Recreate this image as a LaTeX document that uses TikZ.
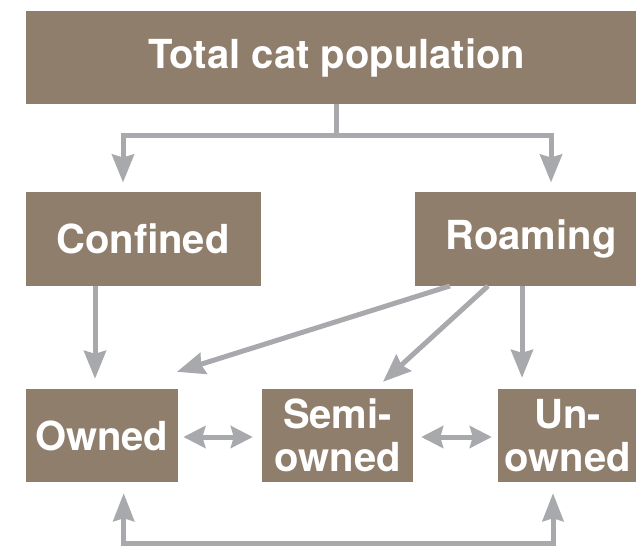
\documentclass[tikz,border=0pt]{standalone}
\usepackage{fontspec}
\usepackage{tikz}
\usepackage{xcolor}
\usetikzlibrary{arrows.meta}
\setmainfont{TeX Gyre Heros}
\definecolor{box_fill}{RGB}{143,126,108}
\definecolor{link_gray}{RGB}{168,169,172}
\tikzset{
    box/.style={fill=box_fill,text=white,inner sep=0pt,align=center,
        font=\fontsize{40}{43}\selectfont\bfseries},
    link/.style={draw=link_gray,line width=5pt},
    link_one/.style={link,-{Stealth[length=28pt,width=22pt,inset=3pt]}},
    link_both/.style={link,{Stealth[length=22pt,width=22pt,inset=3pt]}-{Stealth[length=22pt,width=22pt,inset=3pt]}},
    link_back/.style={link,{Stealth[length=28pt,width=21pt,inset=3pt]}-{Stealth[length=28pt,width=21pt,inset=3pt]}},
}

\begin{document}
\begin{tikzpicture}[x=1pt,y=-1pt]
  \useasboundingbox (0,0) rectangle (636,546);
  \clip (0,0) rectangle (636,546);
  % Boxes
  \node[box,minimum width=622pt,minimum height=93pt] (total) at (336.8,57.5) {Total cat population};
  \node[box,minimum width=235pt,minimum height=94pt] (confined) at (143,238.7) {Confined};
  \node[box,minimum width=232pt,minimum height=94pt] (roaming) at (531,238.7) {Roaming};
  \node[box,minimum width=152pt,minimum height=93pt] (owned) at (101.7,435.5) {Owned};
  \node[box,minimum width=151pt,minimum height=93pt] (semi) at (337.5,435.5) {Semi-\\owned};
  \node[box,minimum width=139pt,minimum height=93pt] (unowned) at (567.5,435.5) {Un-\\owned};
  % Split from the total
  \coordinate (split) at ([yshift=-31pt]total.south);
  \draw[link] (total.south) -- (split);
  \draw[link_one] (split) -| ([xshift=-20pt,yshift=9pt]confined.north);
  \draw[link_one] (split) -| ([xshift=20pt,yshift=9pt]roaming.north);
  % Down to the ownership boxes
  \draw[link_one] ([xshift=-48pt]confined.south) -- ([xshift=-6.7pt,yshift=10pt]owned.north);
  \draw[link_one] ([xshift=-81pt]roaming.south) -- ([xshift=-1pt,yshift=17pt]owned.north east);
  \draw[link_one] ([xshift=-43pt]roaming.south) -- ([xshift=45.5pt,yshift=7pt]semi.north);
  \draw[link_one] ([xshift=-9pt]roaming.south) -- ([xshift=-45.5pt,yshift=11pt]unowned.north);
  % Movement between the groups
  \draw[link_both] ([xshift=5.5pt,yshift=-1.5pt]owned.east) -- ([xshift=-9pt,yshift=-1.5pt]semi.west);
  \draw[link_both] ([xshift=8pt,yshift=-1.5pt]semi.east) -- ([xshift=-6pt,yshift=-1.5pt]unowned.west);
  \draw[link_back] ([xshift=22pt,yshift=-11pt]owned.south) -- ++(0,50) -| ([xshift=-14.5pt,yshift=-11pt]unowned.south);
\end{tikzpicture}
\end{document}
